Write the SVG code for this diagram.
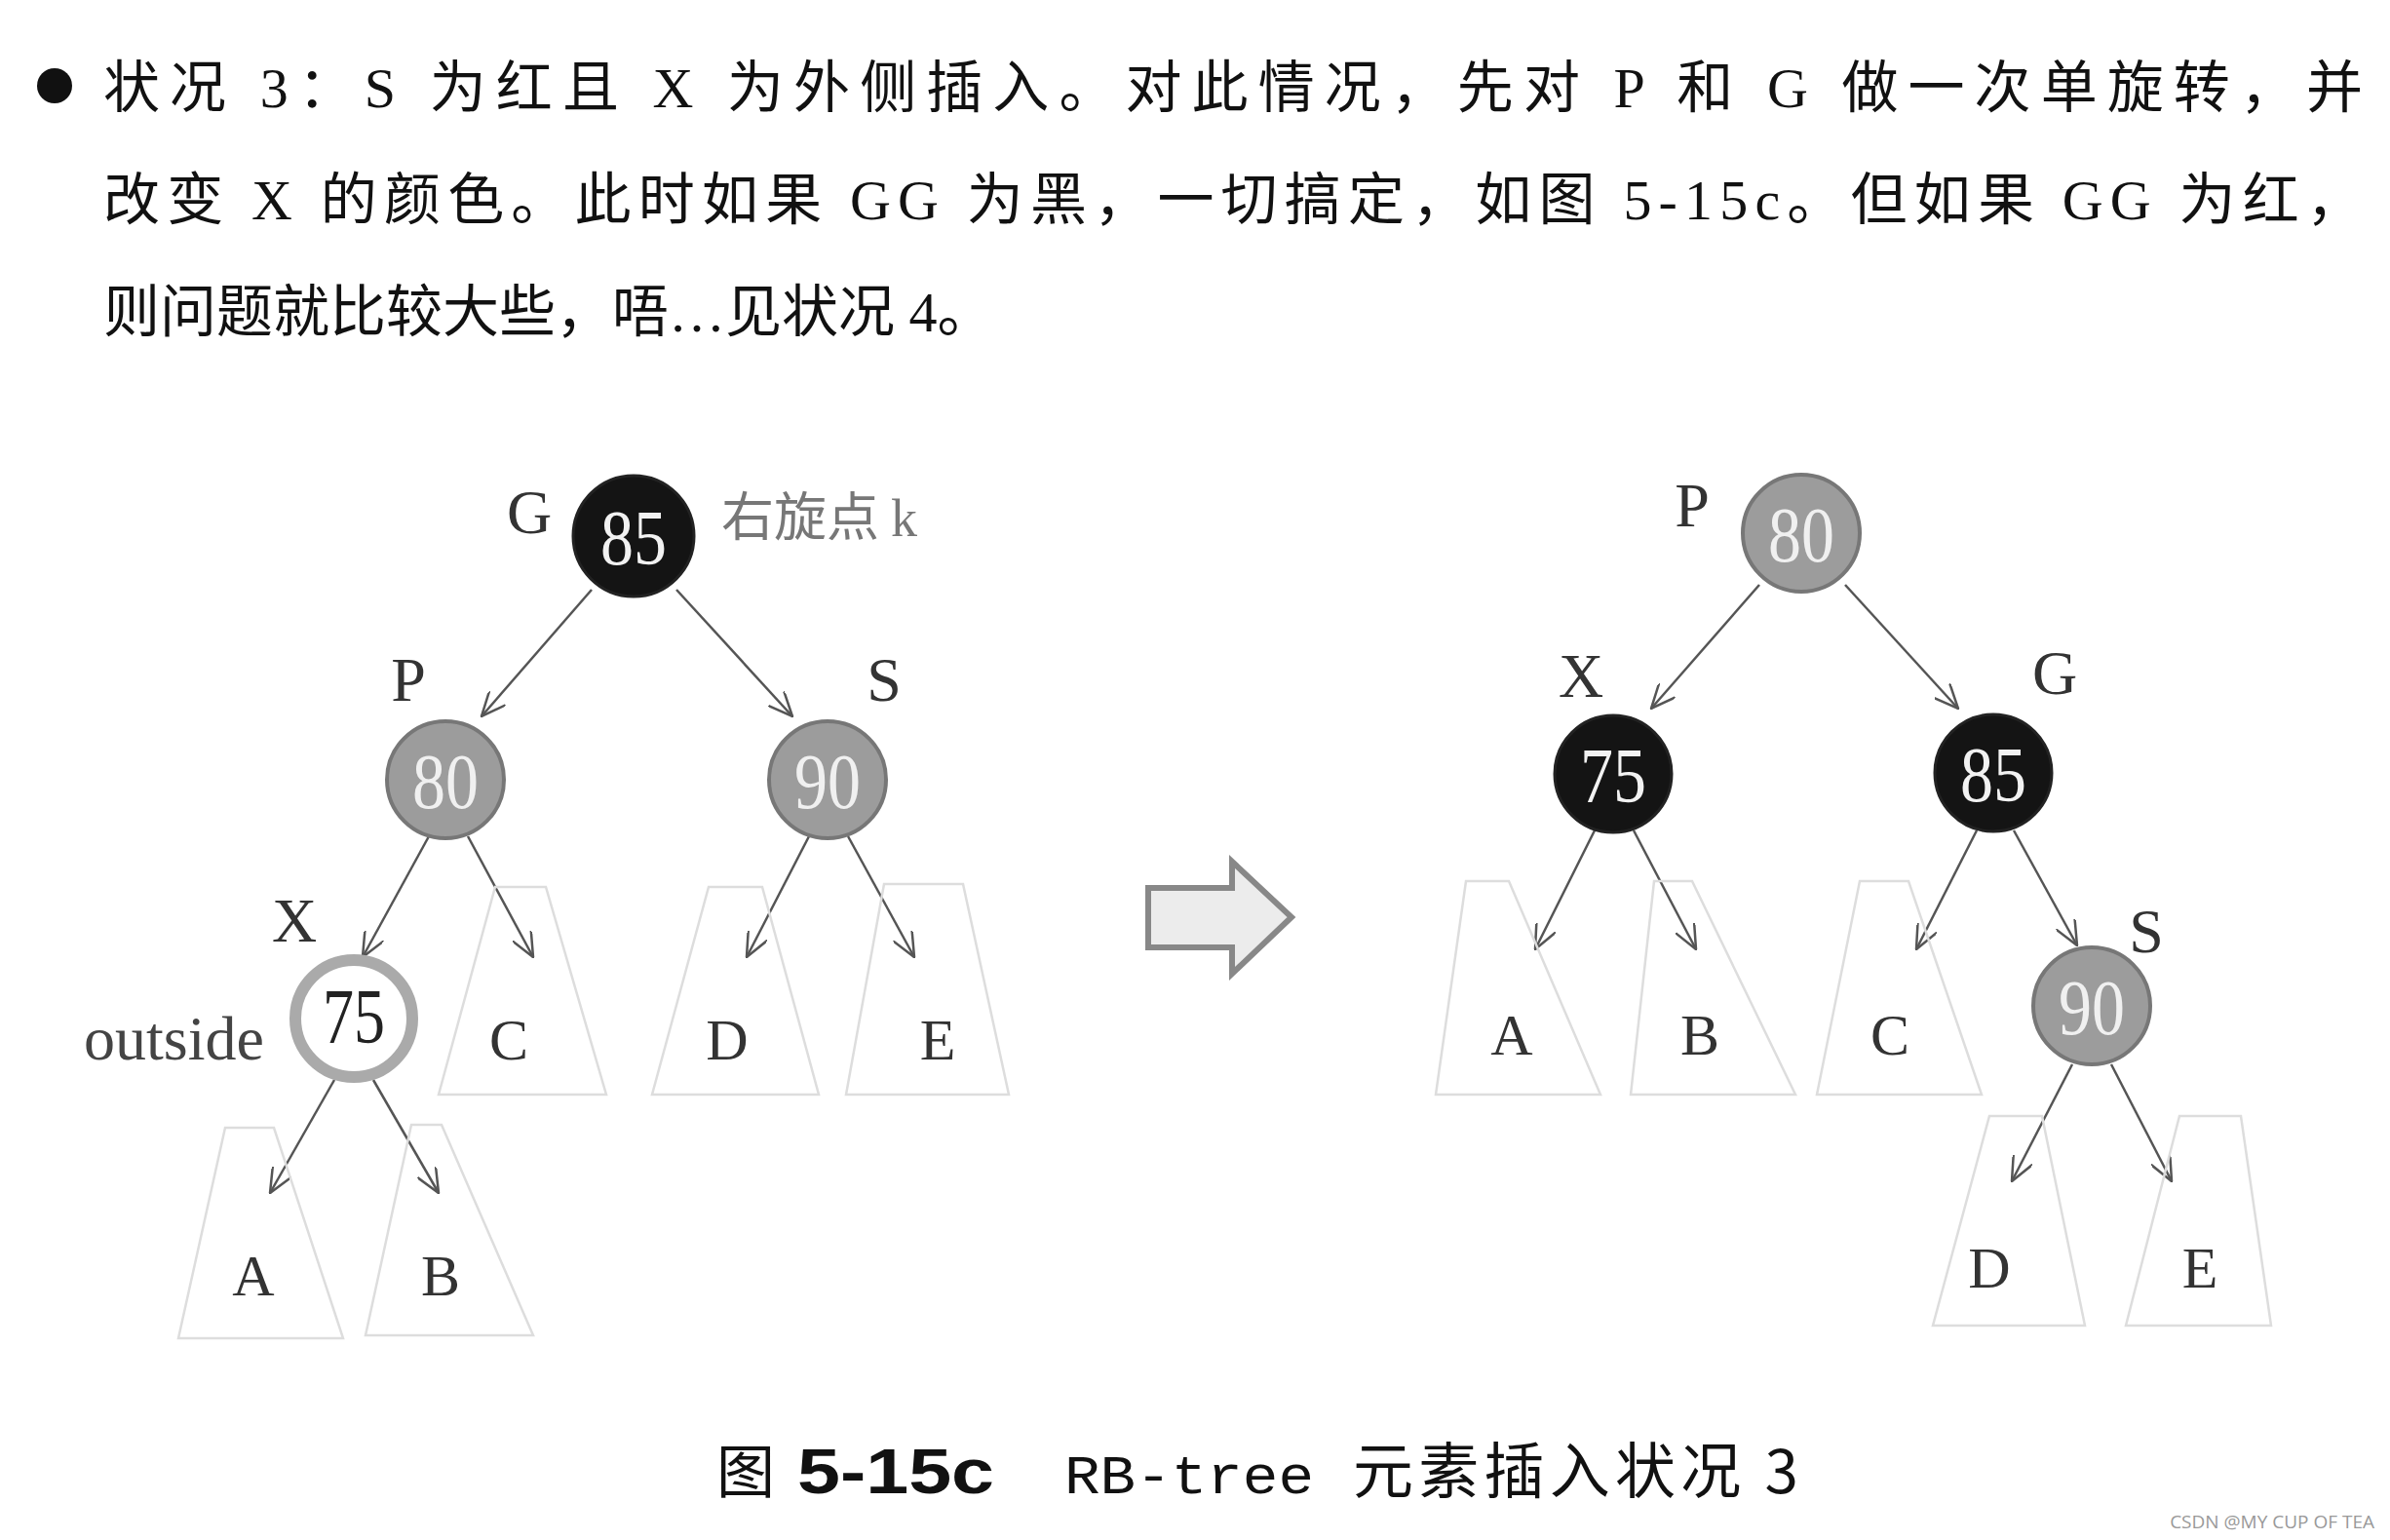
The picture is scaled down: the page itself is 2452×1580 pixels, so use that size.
<svg xmlns="http://www.w3.org/2000/svg" width="2452" height="1580" viewBox="0 0 2452 1580">
<defs>
<marker id="ah" viewBox="0 0 26 22" refX="25" refY="11" markerWidth="26" markerHeight="22" markerUnits="userSpaceOnUse" orient="auto">
<path d="M0,0 L25,11 L0,22" fill="none" stroke="#555" stroke-width="2.5"/>
</marker>
</defs>
<style>
.body{font-family:"Liberation Serif","Noto Sans CJK SC",serif;font-size:58px;fill:#111}
.lab{font-family:"Liberation Serif",serif;font-size:64px;fill:#333;text-anchor:middle}
.sub{font-family:"Liberation Serif",serif;font-size:60px;fill:#333;text-anchor:middle}
.num{font-family:"Liberation Serif",serif;font-size:80px;text-anchor:middle}
.blk{fill:#141414;stroke:#222;stroke-width:3}
.gry{fill:#9c9c9c;stroke:#777;stroke-width:4}
.ring{fill:#fff;stroke:#aaa;stroke-width:12}
.tz{fill:none;stroke:#ddd;stroke-width:2.5}
.edge{stroke:#555;stroke-width:2.5;fill:none;marker-end:url(#ah)}
</style>
<rect width="2452" height="1580" fill="#fff"/>

<g id="paragraph">
<circle cx="56" cy="88" r="18" fill="#111"/>
<text class="body" x="106" y="110" textLength="2318" lengthAdjust="spacing">状况 3：S 为红且 X 为外侧插入。对此情况，先对 P 和 G 做一次单旋转，并</text>
<text class="body" x="106" y="225" textLength="2318" lengthAdjust="spacing">改变 X 的颜色。此时如果 GG 为黑，一切搞定，如图 5-15c。但如果 GG 为红，</text>
<text class="body" x="106" y="340">则问题就比较大些，唔…见状况 4。</text>
</g>

<g id="connectors">
<line class="edge" x1="607" y1="605" x2="494" y2="735"/>
<line class="edge" x1="694" y1="605" x2="813" y2="735"/>
<line class="edge" x1="440" y1="858" x2="372" y2="982"/>
<line class="edge" x1="480" y1="858" x2="547" y2="982"/>
<line class="edge" x1="830" y1="858" x2="766" y2="982"/>
<line class="edge" x1="870" y1="858" x2="938" y2="982"/>
<line class="edge" x1="343" y1="1108" x2="277" y2="1224"/>
<line class="edge" x1="383" y1="1108" x2="450" y2="1224"/>

<line class="edge" x1="1805" y1="600" x2="1694" y2="727"/>
<line class="edge" x1="1893" y1="600" x2="2009" y2="727"/>
<line class="edge" x1="1636" y1="852" x2="1575" y2="974"/>
<line class="edge" x1="1676" y1="852" x2="1740" y2="974"/>
<line class="edge" x1="2028" y1="852" x2="1966" y2="974"/>
<line class="edge" x1="2066" y1="852" x2="2131" y2="970"/>
<line class="edge" x1="2126" y1="1092" x2="2064" y2="1212"/>
<line class="edge" x1="2166" y1="1092" x2="2228" y2="1212"/>
</g>

<g id="left-G">
<circle class="blk" cx="650" cy="550" r="62"/>
<text class="num" x="650" y="579" fill="#f2f2f2" textLength="68" lengthAdjust="spacingAndGlyphs">85</text>
<text class="lab" x="543" y="547">G</text>
<text x="740" y="550" style="font-family:'Noto Sans CJK SC','Liberation Sans',sans-serif;font-size:54px;fill:#777">右旋点 <tspan style="font-family:'Liberation Serif',serif">k</tspan></text>
</g>
<g id="left-P">
<circle class="gry" cx="457" cy="800" r="60"/>
<text class="num" x="457" y="829" fill="#f0f0f0" textLength="68" lengthAdjust="spacingAndGlyphs">80</text>
<text class="lab" x="419" y="719">P</text>
</g>
<g id="left-S">
<circle class="gry" cx="849" cy="800" r="60"/>
<text class="num" x="849" y="829" fill="#f0f0f0" textLength="68" lengthAdjust="spacingAndGlyphs">90</text>
<text class="lab" x="907" y="719">S</text>
</g>
<g id="left-X">
<circle class="ring" cx="363" cy="1045" r="60"/>
<text class="num" x="363" y="1070" fill="#222" textLength="64" lengthAdjust="spacingAndGlyphs">75</text>
<text class="lab" x="302" y="966">X</text>
<text x="86" y="1087" style="font-family:'Liberation Serif',serif;font-size:64px;fill:#444">outside</text>
</g>
<g id="left-A"><polygon class="tz" points="231,1157 281,1157 352,1373 183,1373"/><text class="sub" x="260" y="1329">A</text></g>
<g id="left-B"><polygon class="tz" points="422,1154 453,1154 547,1370 375,1370"/><text class="sub" x="452" y="1329">B</text></g>
<g id="left-C"><polygon class="tz" points="508,910 560,910 622,1123 450,1123"/><text class="sub" x="522" y="1087">C</text></g>
<g id="left-D"><polygon class="tz" points="727,910 782,910 840,1123 669,1123"/><text class="sub" x="746" y="1087">D</text></g>
<g id="left-E"><polygon class="tz" points="907,907 988,907 1035,1123 868,1123"/><text class="sub" x="962" y="1087">E</text></g>

<g id="transform-arrow">
<polygon points="1178,911 1264,911 1264,884 1325,941 1264,999 1264,972 1178,972" fill="#ececec" stroke="#888" stroke-width="6"/>
</g>

<g id="right-P">
<circle class="gry" cx="1848" cy="547" r="60"/>
<text class="num" x="1848" y="576" fill="#f0f0f0" textLength="68" lengthAdjust="spacingAndGlyphs">80</text>
<text class="lab" x="1736" y="540">P</text>
</g>
<g id="right-X">
<circle class="blk" cx="1655" cy="794" r="60"/>
<text class="num" x="1655" y="823" fill="#f2f2f2" textLength="68" lengthAdjust="spacingAndGlyphs">75</text>
<text class="lab" x="1622" y="715">X</text>
</g>
<g id="right-G">
<circle class="blk" cx="2045" cy="793" r="60"/>
<text class="num" x="2045" y="822" fill="#f2f2f2" textLength="68" lengthAdjust="spacingAndGlyphs">85</text>
<text class="lab" x="2108" y="712">G</text>
</g>
<g id="right-S">
<circle class="gry" cx="2146" cy="1032" r="60"/>
<text class="num" x="2146" y="1061" fill="#f0f0f0" textLength="68" lengthAdjust="spacingAndGlyphs">90</text>
<text class="lab" x="2202" y="977">S</text>
</g>
<g id="right-A"><polygon class="tz" points="1504,904 1548,904 1642,1123 1473,1123"/><text class="sub" x="1551" y="1082">A</text></g>
<g id="right-B"><polygon class="tz" points="1697,904 1736,904 1842,1123 1673,1123"/><text class="sub" x="1744" y="1082">B</text></g>
<g id="right-C"><polygon class="tz" points="1908,904 1958,904 2033,1123 1864,1123"/><text class="sub" x="1939" y="1082">C</text></g>
<g id="right-D"><polygon class="tz" points="2041,1145 2095,1145 2139,1360 1983,1360"/><text class="sub" x="2041" y="1321">D</text></g>
<g id="right-E"><polygon class="tz" points="2236,1145 2299,1145 2330,1360 2181,1360"/><text class="sub" x="2257" y="1321">E</text></g>

<g id="caption">
<text y="1532" style="font-size:60px;fill:#111"><tspan x="735" style="font-family:'Noto Sans CJK SC',sans-serif">图</tspan><tspan x="818" textLength="202" lengthAdjust="spacingAndGlyphs" style="font-family:'Liberation Sans',sans-serif;font-weight:bold;font-size:64px">5-15c</tspan><tspan x="1092" textLength="256" lengthAdjust="spacingAndGlyphs" style="font-family:'Liberation Mono',monospace;font-size:56px">RB-tree</tspan><tspan x="1388" textLength="457" lengthAdjust="spacing" style="font-family:'Noto Sans CJK SC',sans-serif;font-size:62px">元素插入状况 3</tspan></text>
</g>
<text x="2436" y="1568" text-anchor="end" style="font-family:'Open Sans',sans-serif;font-size:19px;fill:#999">CSDN @MY CUP OF TEA</text>
</svg>
